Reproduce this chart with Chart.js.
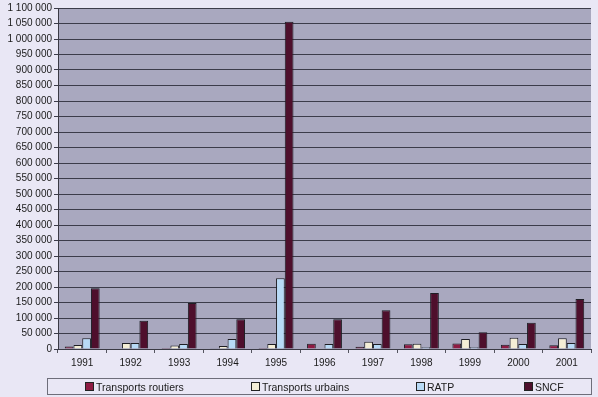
<!DOCTYPE html>
<html>
<head>
<meta charset="utf-8">
<script src="https://cdn.jsdelivr.net/npm/chart.js@4/dist/chart.umd.min.js"></script>
<style>
  body { margin: 0; background: #e9e7f5; font-family: "Liberation Sans", Arial, sans-serif; }
  #wrap { position: relative; width: 598px; height: 397px; }
  #cchart { position: absolute; left: 0; top: 0; }
  #legend { position: absolute; left: 47px; top: 378px; width: 545px; height: 17px;
    border: 1px solid #6e6e7a; box-sizing: border-box; font-size: 10.5px; color: #1a1a1a; }
  .item { position: absolute; top: 2px; white-space: nowrap; }
  .box { display: inline-block; width: 7px; height: 7px; border: 1px solid #222; margin-right: 2px; vertical-align: 0px; }
</style>
</head>
<body>
<div id="wrap">
  <canvas id="cchart" width="598" height="397"></canvas>
  <div id="legend"></div>
</div>
<script>
// years
const years = ["1991", "1992", "1993", "1994", "1995", "1996", "1997", "1998", "1999", "2000", "2001"];

// values
const routiers = [8000, 2000, 3000, 1000, 3000, 17000, 7000, 15000, 18000, 14000, 12000];
const urbains = [13000, 19000, 11000, 10000, 16000, 0, 23000, 17000, 32000, 36000, 35000];
const ratp = [35000, 19000, 16000, 32000, 228000, 16000, 16000, 6000, 6000, 16000, 19000];
const sncf = [196000, 91000, 148000, 96000, 1056000, 96000, 125000, 181000, 54000, 85000, 161000];

const seriesNames = ["Transports routiers", "Transports urbains", "RATP", "SNCF"];
const seriesColors = ["#8e1b43", "#f4eed6", "#b8daf6", "#4e0f2c"];
const legendX = [37, 203, 368, 476];

// thousands with a space, as in the original
function fmt(v) {
    return String(v).replace(/\B(?=(\d{3})+(?!\d))/g, " ");
}

/*
    Paint the plot area background
*/
const plotBg = {
    id: "plotBg",
    beforeDraw(chart) {
        const a = chart.chartArea;
        const ctx = chart.ctx;
        ctx.save();
        ctx.fillStyle = "#a9a8bf";
        ctx.fillRect(a.left, a.top, a.right - a.left, a.bottom - a.top);
        ctx.restore();
    }
};

let datasets = [routiers, urbains, ratp, sncf].map((d, i) => ({
    label: seriesNames[i],
    data: d,
    backgroundColor: seriesColors[i],
    borderColor: "#1e1e24",
    borderWidth: 1,
    categoryPercentage: 0.72,
    barPercentage: 1.0
}));

let ctx = document.getElementById("cchart").getContext("2d");
new Chart(ctx, {
    type: "bar",
    data: { labels: years, datasets: datasets },
    plugins: [plotBg],
    options: {
        responsive: false,
        animation: false,
        layout: { padding: { top: 7, right: 7, left: 0, bottom: 0 } },
        plugins: { legend: { display: false }, tooltip: { enabled: false } },
        scales: {
            x: {
                grid: { drawOnChartArea: false, drawTicks: true, tickLength: 4, color: "#555560" },
                border: { color: "#3a3a44", width: 1 },
                ticks: { color: "#1a1a1a", padding: 4, font: { family: "Liberation Sans", size: 10 }, maxRotation: 0 },
                afterFit(scale) { scale.height = 48; }
            },
            y: {
                min: 0,
                max: 1100000,
                grid: { color: "#3c3c4a", lineWidth: 1, tickLength: 4, drawTicks: true },
                border: { color: "#3a3a44", width: 1 },
                ticks: {
                    stepSize: 50000,
                    color: "#1a1a1a",
                    padding: 2,
                    font: { family: "Liberation Sans", size: 10 },
                    callback: (v) => fmt(v)
                },
                afterFit(scale) { scale.width = 58; }
            }
        }
    }
});

// legend as real text
let UILegend = document.getElementById("legend");
seriesNames.forEach((name, i) => {
    let item = document.createElement("div");
    item.className = "item";
    item.style.left = legendX[i] + "px";
    item.innerHTML = '<span class="box" style="background:' + seriesColors[i] + '"></span>' + name;
    UILegend.appendChild(item);
});
</script>
</body>
</html>
